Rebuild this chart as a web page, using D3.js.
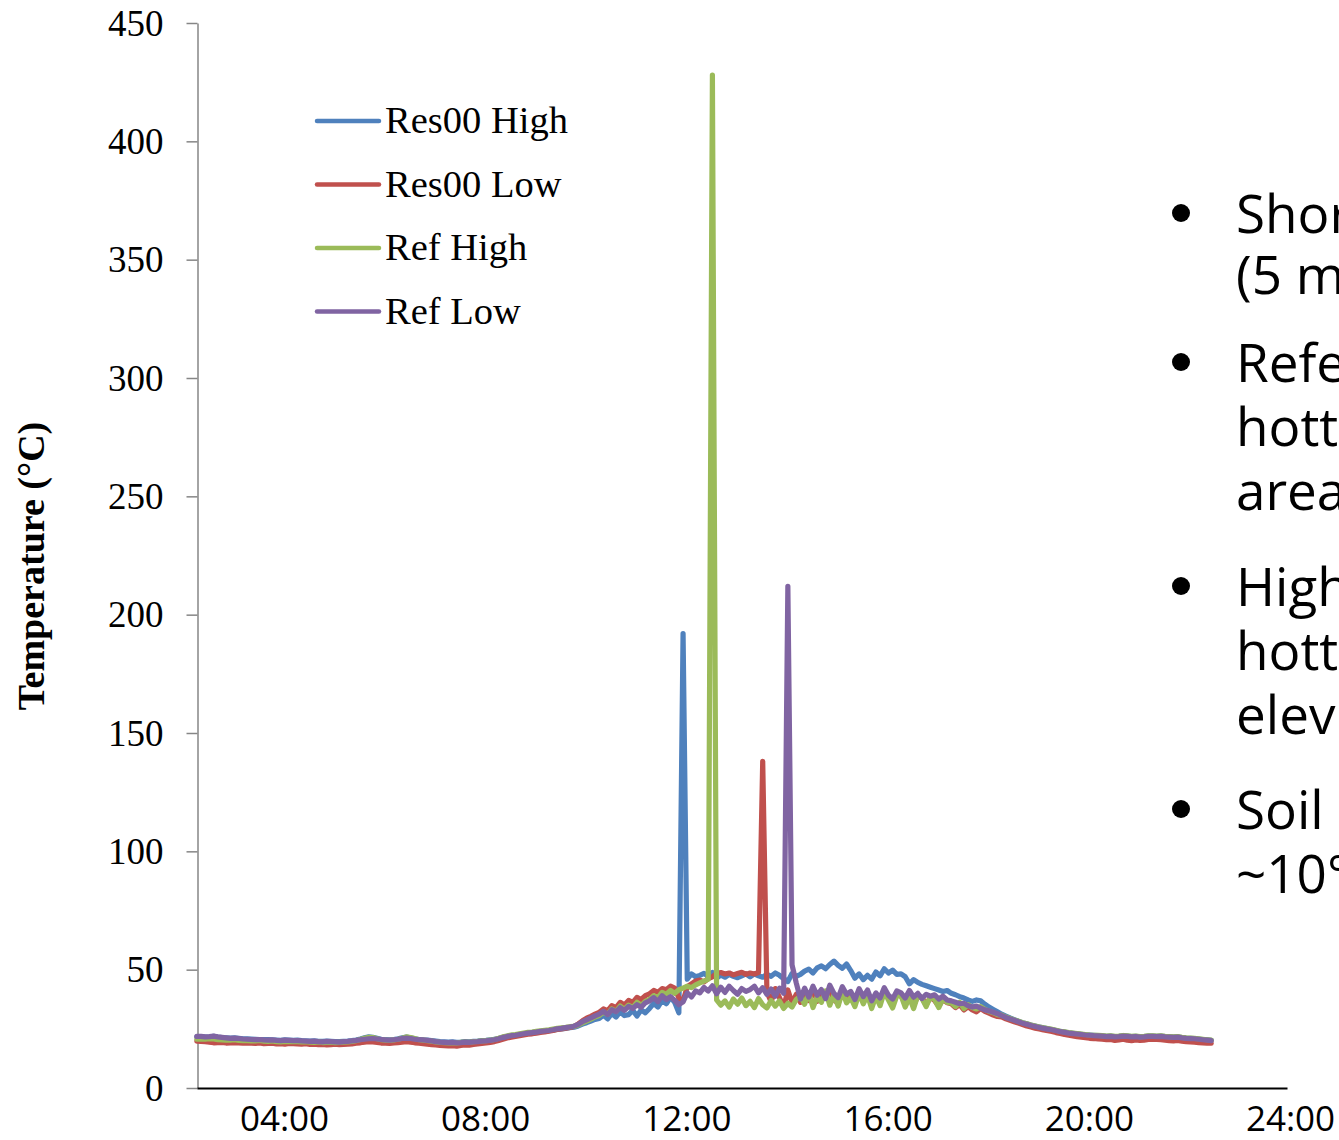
<!DOCTYPE html>
<html>
<head>
<meta charset="utf-8">
<script src="https://cdn.jsdelivr.net/npm/d3@7"></script>
<style>
  body { margin: 0; background: #fff; }
  svg { display: block; }
</style>
</head>
<body>
<div id="chart"></div>
<script>
// Logger readings, one every 5 minutes starting at 02:16 (one row = one hour)
const START_HOUR = 2 + 16 / 60;
const STEP_MIN = 5;

const res00High = [
  21.6, 21.7, 21.5, 21.6, 21.8, 21.5, 21.3, 21.2, 21.1, 21.2, 21.0, 20.8,
  20.8, 20.7, 20.6, 20.5, 20.4, 20.4, 20.3, 20.2, 20.1, 20.3, 20.2, 20.1,
  20.2, 20.0, 19.9, 19.8, 19.9, 19.7, 19.7, 19.8, 19.7, 19.6, 19.6, 19.7,
  19.8, 20.0, 20.3, 20.7, 21.2, 21.6, 21.4, 21.0, 20.6, 20.4, 20.3, 20.5,
  20.8, 21.2, 21.5, 21.2, 20.8, 20.5, 20.3, 20.2, 20.0, 19.8, 19.6, 19.5,
  19.4, 19.5, 19.3, 19.4, 19.6, 19.5, 19.7, 19.8, 20.0, 20.1, 20.3, 20.6,
  20.9, 21.4, 21.8, 22.2, 22.3, 22.7, 23.0, 23.1, 23.4, 23.7, 23.8, 24.0,
  24.2, 24.4, 24.8, 25.0, 25.2, 25.5, 25.7, 26.2, 27.0, 27.6, 28.3, 29.0,
  29.4, 30.8, 29.2, 31.5, 30.0, 32.2, 30.6, 31.0, 32.8, 30.4, 33.0, 31.8,
  33.6, 35.8, 34.2, 37.0, 35.6, 38.4, 36.2, 31.8, 192, 46.0, 48.2, 47.0,
  47.6, 48.4, 47.2, 48.8, 46.4, 47.8, 46.8, 48.0, 47.2, 46.6, 47.4, 48.2,
  47.0, 48.2, 47.4, 46.8, 48.0, 47.2, 48.6, 47.6, 46.2, 45.0, 48.4, 47.2,
  48.0, 49.4, 50.2, 48.6, 50.8, 51.6, 50.4, 52.2, 53.6, 51.8, 50.6, 52.4,
  49.6, 46.4, 48.2, 45.8, 47.6, 46.0, 49.0, 47.4, 50.4, 48.6, 49.8, 48.0,
  48.2, 47.0, 44.0, 45.8, 44.6, 43.8, 43.2, 42.6, 42.0, 41.4, 40.8, 41.2,
  40.0, 39.4, 38.6, 38.0, 37.2, 36.6, 37.2, 36.8, 35.4, 34.2, 33.2, 32.2,
  31.2, 30.4, 29.6, 28.9, 28.2, 27.6, 27.1, 26.6, 26.2, 25.8, 25.4, 25.0,
  24.7, 24.3, 23.9, 23.6, 23.3, 23.1, 22.9, 22.7, 22.5, 22.4, 22.3, 22.1,
  22.0, 21.8, 21.9, 21.7, 21.8, 22.1, 21.9, 21.7, 21.8, 21.6, 21.7, 21.9,
  21.9, 21.8, 21.9, 21.7, 21.6, 21.5, 21.6, 21.3, 21.1, 21.0, 20.9, 20.7,
  20.5, 20.3, 20.1
];

const res00Low = [
  19.8, 19.7, 19.6, 19.4, 19.1, 19.2, 19.3, 19.0, 19.1, 19.2, 19.1, 18.9,
  19.0, 18.9, 18.8, 19.0, 18.7, 18.8, 18.9, 18.6, 18.7, 18.5, 18.8, 18.7,
  18.6, 18.5, 18.7, 18.4, 18.5, 18.3, 18.4, 18.2, 18.3, 18.5, 18.3, 18.4,
  18.5, 18.6, 18.9, 19.1, 19.4, 19.6, 19.5, 19.3, 19.0, 18.9, 18.8, 19.0,
  19.2, 19.4, 19.6, 19.4, 19.1, 18.9, 18.7, 18.5, 18.3, 18.2, 18.0, 17.9,
  17.8, 17.9, 17.7, 18.0, 18.2, 18.1, 18.4, 18.6, 18.8, 19.0, 19.3, 19.6,
  20.1, 20.6, 21.1, 21.5, 21.8, 22.1, 22.4, 22.7, 22.9, 23.2, 23.5, 23.7,
  24.0, 24.3, 24.7, 25.0, 25.3, 25.6, 26.0, 27.1, 28.4, 29.5, 30.3, 31.2,
  32.0, 33.4, 32.6, 34.8, 34.0, 36.2, 35.1, 37.0, 36.2, 38.3, 37.4, 39.0,
  39.8, 41.2, 40.4, 42.0, 41.5, 43.0, 42.2, 38.0, 36.8, 42.8, 44.0, 45.2,
  45.6, 44.8, 46.2, 47.0, 48.4, 48.8, 48.2, 48.6, 47.8, 48.4, 48.9, 48.0,
  48.6, 48.2, 48.8, 138, 40.6, 36.4, 42.0, 38.2, 34.0, 41.4, 36.0, 39.6,
  36.2, 40.4, 37.0, 41.8, 36.6, 40.6, 38.0, 42.0, 37.2, 35.8, 41.2, 38.6,
  38.8, 35.6, 41.2, 36.8, 40.0, 35.2, 39.4, 36.4, 41.6, 38.0, 35.4, 39.8,
  38.8, 36.4, 39.6, 34.8, 39.0, 38.2, 35.0, 38.4, 37.0, 34.6, 37.4, 36.0,
  35.6, 34.0, 35.2, 33.0, 34.4, 33.0, 32.2, 33.6, 32.4, 31.6, 30.8, 30.2,
  30.0, 29.2, 28.6, 28.0, 27.4, 26.8, 26.2, 25.8, 25.3, 24.9, 24.5, 24.2,
  23.9, 23.4, 23.0, 22.6, 22.3, 22.0, 21.7, 21.5, 21.3, 21.0, 20.9, 20.7,
  20.6, 20.4, 20.5, 20.1, 20.3, 20.6, 20.2, 20.0, 20.3, 20.1, 20.2, 20.5,
  20.6, 20.5, 20.4, 20.2, 20.0, 19.9, 20.1, 19.8, 19.6, 19.5, 19.4, 19.2,
  19.1, 19.0, 18.9
];

const refHigh = [
  20.6, 20.7, 20.6, 20.8, 20.7, 20.4, 20.3, 20.2, 20.2, 20.4, 20.1, 20.0,
  20.0, 19.9, 19.9, 20.1, 19.8, 19.7, 19.9, 19.6, 19.5, 19.7, 19.6, 19.7,
  19.6, 19.5, 19.6, 19.4, 19.3, 19.5, 19.2, 19.3, 19.4, 19.2, 19.3, 19.4,
  19.5, 19.7, 20.0, 20.5, 21.0, 21.4, 21.3, 20.8, 20.4, 20.2, 20.1, 20.3,
  20.6, 21.0, 21.6, 21.3, 20.9, 20.4, 20.2, 20.0, 19.8, 19.5, 19.3, 19.2,
  19.1, 19.2, 19.0, 19.3, 19.4, 19.3, 19.6, 19.7, 19.9, 20.0, 20.2, 20.5,
  21.0, 21.6, 22.0, 22.4, 22.6, 22.9, 23.2, 23.5, 23.6, 23.9, 24.2, 24.4,
  24.6, 24.9, 25.2, 25.4, 25.6, 25.9, 26.0, 26.6, 27.5, 28.3, 29.1, 30.0,
  30.6, 32.0, 31.1, 33.4, 32.4, 34.6, 33.2, 35.0, 34.0, 36.2, 34.8, 36.6,
  37.4, 39.0, 38.2, 40.4, 39.6, 41.2, 40.0, 41.5, 42.2, 43.0, 42.4, 43.6,
  44.4, 45.2, 46.0, 428, 37.2, 35.0, 36.8, 34.2, 37.6, 35.4, 38.0, 34.8,
  36.6, 34.0, 37.8, 35.2, 33.8, 37.0, 34.6, 36.8, 33.6, 35.8, 34.2, 37.4,
  38.8, 35.4, 40.2, 34.0, 38.6, 36.2, 41.0, 35.0, 39.4, 34.6, 40.8, 36.0,
  38.2, 34.4, 40.0, 35.6, 39.2, 33.6, 38.8, 34.8, 40.6, 37.2, 33.8, 39.0,
  39.0, 34.2, 38.4, 33.6, 39.2, 37.8, 34.4, 38.6, 37.4, 34.0, 37.8, 36.2,
  36.0, 34.4, 36.2, 33.6, 35.2, 34.0, 33.4, 34.4, 33.2, 32.4, 31.8, 31.0,
  30.8, 30.0, 29.4, 28.8, 28.2, 27.6, 27.1, 26.6, 26.2, 25.8, 25.4, 25.1,
  24.8, 24.4, 24.0, 23.7, 23.4, 23.2, 23.0, 22.8, 22.6, 22.4, 22.3, 22.2,
  22.1, 21.9, 22.0, 21.8, 21.9, 22.2, 22.0, 21.8, 21.9, 21.7, 21.8, 22.0,
  22.0, 21.9, 22.0, 21.8, 21.7, 21.6, 21.7, 21.4, 21.2, 21.1, 21.0, 20.8,
  20.6, 20.4, 20.2
];

const refLow = [
  21.8, 21.8, 21.6, 21.7, 21.9, 21.6, 21.4, 21.2, 21.0, 21.1, 20.9, 20.7,
  20.6, 20.5, 20.4, 20.5, 20.3, 20.2, 20.3, 20.1, 20.0, 20.2, 20.1, 20.0,
  20.0, 19.9, 19.8, 19.7, 19.8, 19.6, 19.5, 19.7, 19.6, 19.5, 19.4, 19.6,
  19.7, 19.9, 20.1, 20.4, 20.6, 20.8, 20.9, 20.7, 20.5, 20.3, 20.2, 20.4,
  20.6, 20.9, 21.1, 20.9, 20.6, 20.4, 20.3, 20.1, 19.9, 19.6, 19.4, 19.3,
  19.2, 19.3, 19.1, 19.2, 19.4, 19.3, 19.5, 19.6, 19.8, 19.9, 20.1, 20.4,
  20.8, 21.3, 21.7, 22.1, 22.3, 22.6, 22.9, 23.2, 23.4, 23.6, 23.9, 24.1,
  24.3, 24.6, 25.0, 25.2, 25.5, 25.8, 26.1, 26.9, 28.0, 28.8, 29.6, 30.5,
  31.2, 32.4, 31.0, 33.1, 32.2, 34.0, 32.8, 34.5, 33.6, 35.2, 34.1, 36.0,
  36.8, 38.2, 36.5, 39.0, 37.4, 38.6, 37.0, 35.2, 36.4, 40.2, 38.5, 41.0,
  40.2, 42.5, 41.0, 43.2, 39.8, 42.6, 40.4, 43.0, 41.2, 39.6, 42.0, 40.8,
  41.6, 43.0, 40.2, 42.4, 39.6, 41.8, 38.8, 42.2, 40.0, 212, 52.0, 44.4,
  37.6, 42.2, 38.4, 43.0, 39.2, 41.6, 37.8, 43.4, 40.0, 38.2, 42.8, 39.6,
  40.8, 37.4, 42.0, 38.6, 41.4, 36.8, 40.2, 38.0, 42.4, 39.2, 37.6, 41.0,
  40.2, 38.0, 41.2, 38.4, 40.0, 37.8, 39.6, 38.8, 39.4, 37.6, 38.8, 37.2,
  36.8, 36.2, 35.6, 35.8, 34.8, 34.2, 34.6, 33.8, 33.0, 32.6, 32.0, 31.4,
  30.6, 29.8, 29.2, 28.6, 28.0, 27.4, 26.9, 26.4, 26.0, 25.6, 25.2, 24.9,
  24.6, 24.2, 23.8, 23.5, 23.2, 23.0, 22.8, 22.6, 22.4, 22.3, 22.1, 22.0,
  21.9, 21.7, 21.8, 21.6, 21.7, 21.9, 21.8, 21.6, 21.7, 21.5, 21.6, 21.8,
  21.8, 21.7, 21.8, 21.6, 21.5, 21.4, 21.5, 21.2, 21.0, 20.9, 20.8, 20.6,
  20.4, 20.2, 20.0
];

const seriesNames = ['Res00 High', 'Res00 Low', 'Ref High', 'Ref Low'];
const seriesColors = ['#4f81bd', '#c0504d', '#9bbb59', '#8064a2'];
const seriesValues = [res00High, res00Low, refHigh, refLow];

const xTicks = [4, 8, 12, 16, 20, 24];
const yTicks = [0, 50, 100, 150, 200, 250, 300, 350, 400, 450];

const bulletLines = [
  ['Shor', '(5 m'],
  ['Refe', 'hott', 'area'],
  ['High', 'hott', 'elev'],
  ['Soil', '~10°']
];

const WIDTH = 1339;
const HEIGHT = 1140;

const svg = d3.select('#chart').append('svg')
  .attr('width', WIDTH)
  .attr('height', HEIGHT)
  .style('background', '#fff');

const x = d3.scaleLinear().domain([2.27, 23.94]).range([197, 1287]);
const y = d3.scaleLinear().domain([0, 450]).range([1088, 23]);

// y axis (grey, Excel style)
const yAxis = svg.append('g')
  .attr('transform', 'translate(197.5,0)')
  .call(d3.axisLeft(y).tickValues(yTicks).tickSize(11).tickSizeOuter(0).tickPadding(23));
yAxis.select('.domain').attr('stroke', '#868686').attr('stroke-width', 1.5);
yAxis.selectAll('.tick line').attr('stroke', '#868686').attr('stroke-width', 1.5);
yAxis.selectAll('.tick text')
  .attr('font-family', '"Liberation Serif", "Times New Roman", serif')
  .attr('font-size', 37)
  .attr('fill', '#000')
  .attr('dy', '0.33em');

svg.append('text')
  .attr('transform', 'translate(31,566) rotate(-90)')
  .attr('text-anchor', 'middle')
  .attr('dominant-baseline', 'central')
  .attr('font-family', '"Liberation Serif", "Times New Roman", serif')
  .attr('font-weight', 'bold')
  .attr('font-size', 38)
  .text('Temperature (°C)');

// series lines
const line = d3.line()
  .x((d, i) => x(START_HOUR + i * STEP_MIN / 60))
  .y(d => y(d));

seriesValues.forEach((vals, k) => {
  svg.append('path')
    .datum(vals)
    .attr('d', line)
    .attr('fill', 'none')
    .attr('stroke', seriesColors[k])
    .attr('stroke-width', 5.2)
    .attr('stroke-linejoin', 'round')
    .attr('stroke-linecap', 'round');
});

// x axis on top of the data
const xAxis = svg.append('g')
  .attr('transform', 'translate(0,1088)')
  .call(d3.axisBottom(x).tickValues(xTicks).tickSize(0).tickPadding(18)
    .tickFormat(d => String(d).padStart(2, '0') + ':00'));
xAxis.select('.domain').attr('stroke', '#000').attr('stroke-width', 2);
xAxis.selectAll('.tick text')
  .attr('font-family', '"Open Sans", sans-serif')
  .attr('font-size', 35)
  .attr('fill', '#000');

// legend
const legend = svg.append('g').attr('transform', 'translate(317,121)');
seriesNames.forEach((name, k) => {
  const g = legend.append('g').attr('transform', `translate(0,${k * 63.5})`);
  g.append('line')
    .attr('x1', 0).attr('x2', 62)
    .attr('stroke', seriesColors[k])
    .attr('stroke-width', 4.5)
    .attr('stroke-linecap', 'round');
  g.append('text')
    .attr('x', 68)
    .attr('y', 12)
    .attr('font-family', '"Liberation Serif", "Times New Roman", serif')
    .attr('font-size', 38.5)
    .attr('fill', '#000')
    .text(name);
});

// slide bullet text, cut off by the page edge
const bulletBaselines = [[233, 294], [382, 446, 510], [606, 670, 734], [829, 893]];
const notes = svg.append('g')
  .attr('font-family', '"Open Sans", sans-serif')
  .attr('font-size', 53)
  .attr('fill', '#000');
bulletLines.forEach((para, p) => {
  notes.append('circle')
    .attr('cx', 1181)
    .attr('cy', bulletBaselines[p][0] - 20)
    .attr('r', 9);
  para.forEach((txt, j) => {
    notes.append('text')
      .attr('x', 1236)
      .attr('y', bulletBaselines[p][j])
      .text(txt);
  });
});
</script>
</body>
</html>
